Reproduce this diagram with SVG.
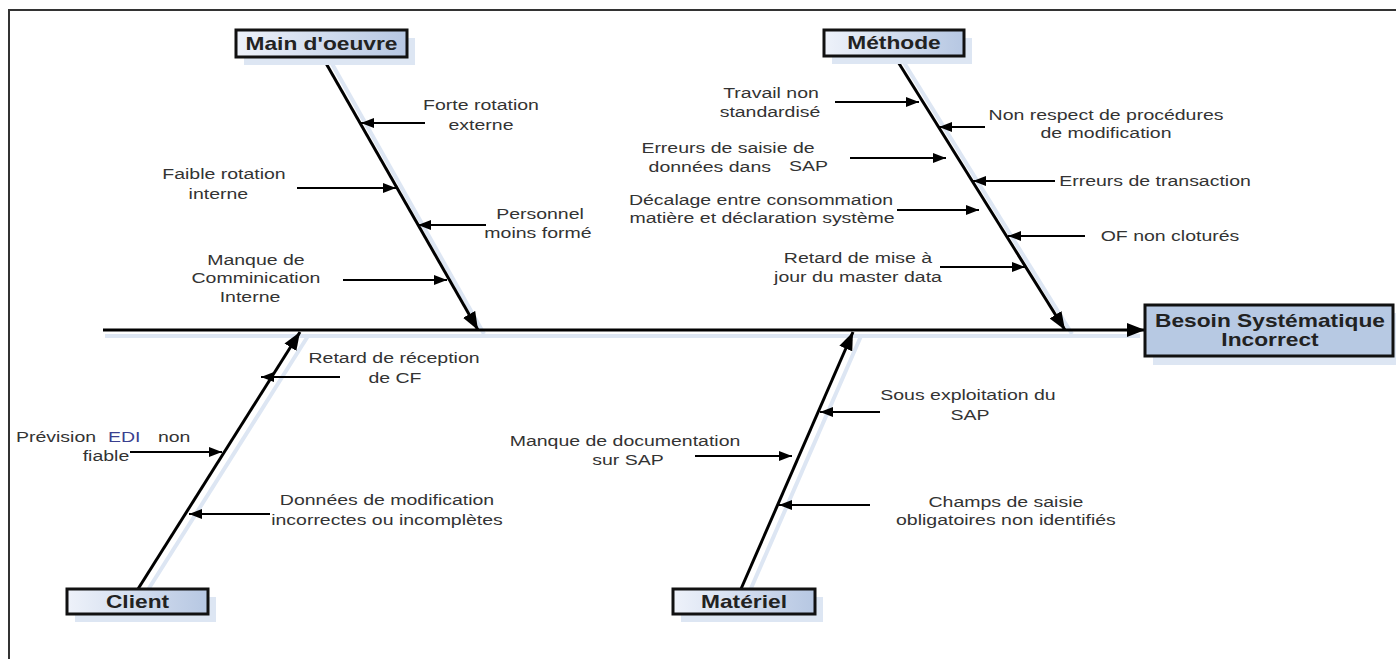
<svg xmlns="http://www.w3.org/2000/svg" width="1396" height="659" viewBox="0 0 1396 659">
<defs>
<linearGradient id="boxGrad" x1="0" y1="0" x2="1" y2="0">
<stop offset="0" stop-color="#eef2fa"/>
<stop offset="1" stop-color="#b6c7e2"/>
</linearGradient>
<marker id="bigHead" markerUnits="userSpaceOnUse" markerWidth="20" markerHeight="14" refX="18" refY="7" orient="auto">
<path d="M0,0 L18,7 L0,14 Z" fill="#000"/>
</marker>
<marker id="smallHead" markerUnits="userSpaceOnUse" markerWidth="14" markerHeight="10" refX="13" refY="5" orient="auto">
<path d="M0,0 L13,5 L0,10 Z" fill="#000"/>
</marker>
</defs>
<style>
.frame{fill:none;stroke:#333;stroke-width:2}
.shadow{fill:#dde6f3;stroke:none}
.shadowLine{fill:none;stroke:#dde6f3;stroke-width:4}
.box{fill:url(#boxGrad);stroke:#111;stroke-width:3}
.mainBox{fill:#b7c9e3;stroke:#111;stroke-width:3}
.title{font-family:"Liberation Sans",Arial,sans-serif;font-weight:bold;font-size:17.5px;fill:#222;text-anchor:middle}
.bone{fill:none;stroke:#000;stroke-width:3;marker-end:url(#bigHead)}
.sub{fill:none;stroke:#000;stroke-width:2;marker-end:url(#smallHead)}
.lbl{font-family:"Liberation Sans",Arial,sans-serif;font-size:15px;fill:#333;text-anchor:middle}
.lft{text-anchor:start}
.blue{fill:#3a3f8f}
</style>
<rect width="1396" height="659" fill="#fff"/>
<path class="frame" d="M9,659 V10 H1396"/>

<g id="shadows">
<line class="shadowLine" x1="105" y1="336" x2="1140" y2="336"/>
<line class="shadowLine" x1="331" y1="62" x2="484" y2="334"/>
<line class="shadowLine" x1="903" y1="61" x2="1072" y2="334"/>
<line class="shadowLine" x1="146" y1="593" x2="308" y2="336"/>
<line class="shadowLine" x1="749" y1="593" x2="861" y2="336"/>
</g>

<g id="connectors">
<line class="bone" x1="103" y1="330" x2="1145" y2="330"/>
<line class="bone" x1="323" y1="58" x2="478" y2="330"/>
<line class="bone" x1="895" y1="57" x2="1065" y2="330"/>
<line class="bone" x1="138" y1="589" x2="300" y2="332"/>
<line class="bone" x1="741" y1="589" x2="853" y2="332"/>
<line class="sub" x1="425" y1="123" x2="361" y2="123"/>
<line class="sub" x1="297" y1="188" x2="396" y2="188"/>
<line class="sub" x1="486" y1="225" x2="418" y2="225"/>
<line class="sub" x1="343" y1="280" x2="447" y2="280"/>
<line class="sub" x1="835" y1="102" x2="919" y2="102"/>
<line class="sub" x1="985" y1="127" x2="939" y2="127"/>
<line class="sub" x1="850" y1="158" x2="946" y2="158"/>
<line class="sub" x1="1055" y1="181" x2="973" y2="181"/>
<line class="sub" x1="897" y1="210" x2="979" y2="210"/>
<line class="sub" x1="1085" y1="236" x2="1008" y2="236"/>
<line class="sub" x1="940" y1="267" x2="1025" y2="267"/>
<line class="sub" x1="340" y1="377" x2="261" y2="377"/>
<line class="sub" x1="130" y1="452" x2="222" y2="452"/>
<line class="sub" x1="270" y1="514" x2="189" y2="514"/>
<line class="sub" x1="880" y1="412" x2="820" y2="412"/>
<line class="sub" x1="695" y1="456" x2="792" y2="456"/>
<line class="sub" x1="870" y1="505" x2="779" y2="505"/>
</g>

<g id="node-main-oeuvre">
<rect class="shadow" x="244" y="38" width="171" height="27"/>
<rect class="box" x="236" y="30" width="171" height="27"/>
<text class="title" transform="scale(1.3,1)" x="247.3" y="50">Main d'oeuvre</text>
</g>
<g id="node-methode">
<rect class="shadow" x="832" y="38" width="140" height="26"/>
<rect class="box" x="824" y="30" width="140" height="26"/>
<text class="title" transform="scale(1.3,1)" x="687.7" y="49">Méthode</text>
</g>
<g id="node-client">
<rect class="shadow" x="75" y="597" width="141" height="25"/>
<rect class="box" x="67" y="589" width="141" height="25"/>
<text class="title" transform="scale(1.3,1)" x="105.8" y="608">Client</text>
</g>
<g id="node-materiel">
<rect class="shadow" x="681" y="597" width="142" height="25"/>
<rect class="box" x="673" y="589" width="142" height="25"/>
<text class="title" transform="scale(1.3,1)" x="572.3" y="608">Matériel</text>
</g>
<g id="node-effet">
<rect class="shadow" x="1153" y="313" width="243" height="52"/>
<rect class="mainBox" x="1145" y="305" width="248" height="51"/>
<text class="title" transform="scale(1.3,1)" x="976.9" y="327">Besoin Systématique</text>
<text class="title" transform="scale(1.3,1)" x="976.9" y="346">Incorrect</text>
</g>

<g id="labels" transform="scale(1.3,1)">
<text class="lbl" x="370" y="110">Forte rotation</text>
<text class="lbl" x="370" y="130">externe</text>
<text class="lbl" x="172.3" y="179">Faible rotation</text>
<text class="lbl" x="168" y="199">interne</text>
<text class="lbl" x="415.4" y="219">Personnel</text>
<text class="lbl" x="413.8" y="238">moins formé</text>
<text class="lbl" x="196.9" y="265">Manque de</text>
<text class="lbl" x="196.9" y="283">Comminication</text>
<text class="lbl" x="192.3" y="302">Interne</text>
<text class="lbl" x="593.1" y="98">Travail non</text>
<text class="lbl" x="592.3" y="117">standardisé</text>
<text class="lbl" x="850.8" y="120">Non respect de procédures</text>
<text class="lbl" x="850.8" y="138">de modification</text>
<text class="lbl" x="560" y="153">Erreurs de saisie de</text>
<text class="lbl" x="546" y="172">données dans</text>
<text class="lbl" x="622" y="171">SAP</text>
<text class="lbl" x="888.5" y="186">Erreurs de transaction</text>
<text class="lbl" x="585.4" y="205">Décalage entre consommation</text>
<text class="lbl" x="586.2" y="223">matière et déclaration système</text>
<text class="lbl" x="900" y="241">OF non cloturés</text>
<text class="lbl" x="660" y="263">Retard de mise à</text>
<text class="lbl" x="660" y="282">jour du master data</text>
<text class="lbl" x="303.1" y="363">Retard de réception</text>
<text class="lbl" x="303.8" y="383">de CF</text>
<text class="lbl lft" x="12.3" y="442">Prévision</text>
<text class="lbl lft blue" x="83.1" y="442">EDI</text>
<text class="lbl lft" x="121.5" y="442">non</text>
<text class="lbl" x="81.5" y="461">fiable</text>
<text class="lbl" x="297.7" y="505">Données de modification</text>
<text class="lbl" x="297.7" y="525">incorrectes ou incomplètes</text>
<text class="lbl" x="744.6" y="400">Sous exploitation du</text>
<text class="lbl" x="746.2" y="420">SAP</text>
<text class="lbl" x="480.8" y="446">Manque de documentation</text>
<text class="lbl" x="483.1" y="465">sur SAP</text>
<text class="lbl" x="773.8" y="507">Champs de saisie</text>
<text class="lbl" x="773.8" y="525">obligatoires non identifiés</text>
</g>
</svg>
